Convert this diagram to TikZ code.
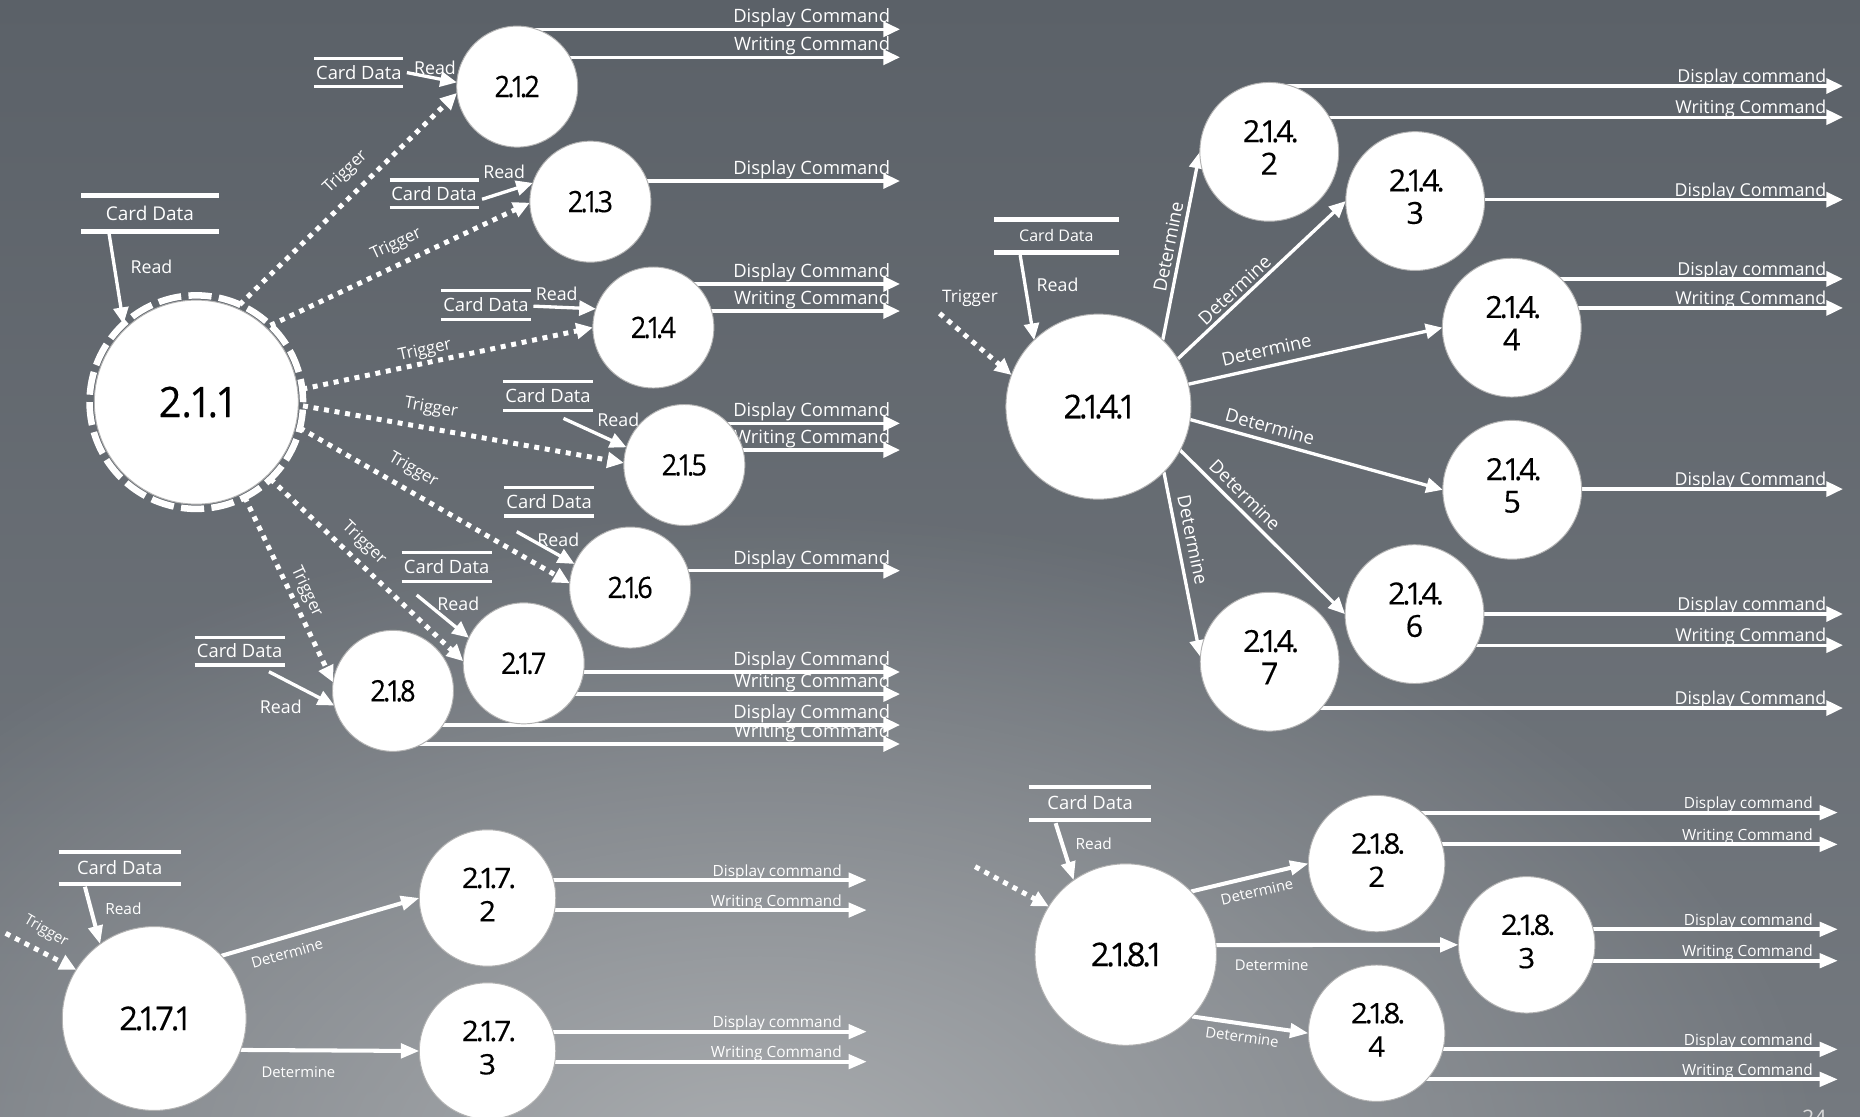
\documentclass[tikz,border=0pt]{standalone}
\usepackage{fontspec}
\setmainfont{Open Sans}
\newfontfamily\numfont{Open Sans}[Numbers=Proportional, FakeBold=0.35]
\usepackage{graphicx}
\usetikzlibrary{arrows.meta,fadings}

\pgfdeclarelayer{bg}
\pgfdeclarelayer{links}
\pgfsetlayers{bg,links,main}

\definecolor{bgtop}{HTML}{5B6168}
\definecolor{bgbottom}{HTML}{74797F}
\definecolor{bgglow}{HTML}{AAADB0}
\tikzfading[name=glowfade, inner color=transparent!0, outer color=transparent!100]

% tight full stop used inside process numbers
\newcommand\pd{\kern-0.1em.\kern-0.1em}
% process numbers: size, horizontal squeeze, text
\newcommand\procnum[3]{\numfont\fontsize{#1}{#1}\selectfont\scalebox{#2}[1]{#3}}
% two-line process numbers: size, line pitch, squeeze, first line, second line
\newcommand\proctwo[5]{\numfont\fontsize{#1}{#2}\selectfont\scalebox{#3}[1]{\begin{tabular}{@{}c@{}}#4\\#5\end{tabular}}}
\newcommand\setfs[1]{\fontsize{#1}{#1}\selectfont}

\tikzset{
  bubble/.style={circle, fill=white, draw=black!30, line width=0.8pt, inner sep=0pt, outer sep=0pt, minimum size=#1, text=black},
  ringnode/.style={circle, draw=white, line width=5.5pt, dash pattern=on 19.5pt off 6.2pt, inner sep=0pt, outer sep=0pt, minimum size=180pt},
  storeline/.style={draw=white, line width=#1, -},
  store/.style n args={4}{inner sep=0pt, outer sep=0pt, minimum width=#1, minimum height=#2, text=white,
    font=\setfs{#4}, text height={#4pt*0.72}, text depth=0pt,
    append after command={(\tikzlastnode.north west) edge[storeline=#3] (\tikzlastnode.north east)
                          (\tikzlastnode.south west) edge[storeline=#3] (\tikzlastnode.south east)}},
  flowA/.style={draw=white, line width=2.8pt, -{Triangle[length=14pt,width=12.6pt]}},
  flowC/.style={draw=white, line width=3.4pt, -{Triangle[length=15.5pt,width=12pt]}},
  trig/.style={draw=white, line width=4.2pt, dash pattern=on 4.2pt off 4.8pt, -{Triangle[length=14pt,width=13pt]}},
  lbl/.style={text=white, inner sep=0pt, font=\setfs{#1}},
  outlbl/.style={text=white, inner sep=0pt, anchor=base east, font=\setfs{#1}},
}

\begin{document}
\begin{tikzpicture}[x=1pt, y=-1pt]
\useasboundingbox (0,0) rectangle (1568,941);

% ---------- background ----------
\begin{pgfonlayer}{bg}
  \shade[top color=bgtop, bottom color=bgbottom] (0,0) rectangle (1568,941);
  \fill[bgglow, path fading=glowfade] (640,990) ellipse (900 and 560);
  \node[text=white!85!black, inner sep=0pt, anchor=north, font=\setfs{18}] (pgno) at (1529.5,935.8) {24};
\end{pgfonlayer}

% =============== 2.1.1 and its children ===============
\node[bubble=172pt] (n211) at (165.5,339) {\procnum{35.4}{0.94}{2.1.1}};
\node[ringnode] (n211ring) at (165.5,339) {};
\node[store={116pt}{31pt}{4.2pt}{16}] (s211) at (126.4,179.9) {Card Data};

\node[bubble=102pt] (n212) at (436,73) {\procnum{24.8}{0.92}{2\pd1\pd2}};
\node[bubble=102pt] (n213) at (497.7,170) {\procnum{24.8}{0.92}{2\pd1\pd3}};
\node[bubble=102pt] (n214) at (550.8,276.1) {\procnum{24.8}{0.92}{2\pd1\pd4}};
\node[bubble=102pt] (n215) at (576.9,392) {\procnum{24.8}{0.92}{2\pd1\pd5}};
\node[bubble=102pt] (n216) at (531.2,495.3) {\procnum{24.8}{0.92}{2\pd1\pd6}};
\node[bubble=102pt] (n217) at (441.5,559.2) {\procnum{24.8}{0.92}{2\pd1\pd7}};
\node[bubble=102pt] (n218) at (331.3,582.4) {\procnum{24.8}{0.92}{2\pd1\pd8}};

\node[store={75pt}{24pt}{2.8pt}{15.5}] (s212) at (302.5,61.2) {Card Data};
\node[store={75pt}{23.4pt}{2.8pt}{15.5}] (s213) at (365.9,163.4) {Card Data};
\node[store={76pt}{24.2pt}{2.8pt}{15.5}] (s214) at (409.7,257.1) {Card Data};
\node[store={75.4pt}{24.4pt}{2.8pt}{15.5}] (s215) at (462,334) {Card Data};
\node[store={75.8pt}{24.2pt}{2.8pt}{15.5}] (s216) at (462.9,422.9) {Card Data};
\node[store={76pt}{24pt}{2.8pt}{15.5}] (s217) at (376.5,478) {Card Data};
\node[store={76pt}{23.3pt}{2.8pt}{15.5}] (s218) at (202,549) {Card Data};

% read labels
\node[lbl=15] (r211) at (127.7,224.8) {Read};
\node[lbl=15] (r212) at (366.7,57.6) {Read};
\node[lbl=15] (r213) at (425,144.7) {Read};
\node[lbl=15] (r214) at (469.3,247.9) {Read};
\node[lbl=15] (r215) at (521.3,354) {Read};
\node[lbl=15] (r216) at (470.7,454.7) {Read};
\node[lbl=15] (r217) at (386.4,509.2) {Read};
\node[lbl=15] (r218) at (236.7,595.7) {Read};

% trigger labels
\node[lbl=14, rotate=43.8] (t212) at (291.4,145.3) {Trigger};
\node[lbl=14, rotate=24.9] (t213) at (334,206.1) {Trigger};
\node[lbl=14, rotate=12.3] (t214) at (358.3,295.5) {Trigger};
\node[lbl=14, rotate=-10] (t215) at (363.4,344.2) {Trigger};
\node[lbl=14, rotate=-30.2] (t216) at (348.3,396.2) {Trigger};
\node[lbl=14, rotate=-43.6] (t217) at (306.7,458) {Trigger};
\node[lbl=14, rotate=-64.8] (t218) at (258.3,498.8) {Trigger};

% free ends of the outgoing flows
\coordinate (o212a) at (758.7,24.7);  \coordinate (o212b) at (758.7,48.3);
\coordinate (o213a) at (758.7,152.6);
\coordinate (o214a) at (758.7,239.4); \coordinate (o214b) at (758.7,262.2);
\coordinate (o215a) at (758.7,356.9); \coordinate (o215b) at (758.7,379.4);
\coordinate (o216a) at (758.7,481.1);
\coordinate (o217a) at (758.7,566.5); \coordinate (o217b) at (758.7,585.1);
\coordinate (o218a) at (758.7,611.2); \coordinate (o218b) at (758.7,627.2);

% =============== 2.1.4.1 and its children ===============
\node[bubble=156pt] (n2141) at (926,342.8) {\procnum{27.6}{1}{2\pd1\pd4\pd1}};
\node[bubble=117pt] (n2142) at (1070,128) {\proctwo{25.6}{27.4}{1}{2\pd1\pd4\pd}{2}};
\node[bubble=117pt] (n2143) at (1193,169.5) {\proctwo{25.6}{27.4}{1}{2\pd1\pd4\pd}{3}};
\node[bubble=117pt] (n2144) at (1274.4,276.2) {\proctwo{25.6}{27.4}{1}{2\pd1\pd4\pd}{4}};
\node[bubble=117pt] (n2145) at (1274.8,412.9) {\proctwo{25.6}{27.4}{1}{2\pd1\pd4\pd}{5}};
\node[bubble=117pt] (n2146) at (1192.4,517.7) {\proctwo{25.6}{27.4}{1}{2\pd1\pd4\pd}{6}};
\node[bubble=117pt] (n2147) at (1070.3,557.8) {\proctwo{25.6}{27.4}{1}{2\pd1\pd4\pd}{7}};
\node[store={105pt}{28.1pt}{4.2pt}{13.5}] (s2141) at (890.5,198.7) {Card Data};
\node[lbl=15] (r2141) at (891.5,240.3) {Read};
\node[lbl=14.5] (t2141) at (817.7,251.5) {Trigger};
\coordinate (tB) at (792.1,264.2);

\node[lbl=15.5, rotate=78.7] (d2142) at (984.8,208) {Determine};
\node[lbl=15.5, rotate=43] (d2143) at (1040.6,244.5) {Determine};
\node[lbl=15.5, rotate=12.7] (d2144) at (1067.6,295) {Determine};
\node[lbl=15.5, rotate=-15.5] (d2145) at (1070.6,359.7) {Determine};
\node[lbl=15.5, rotate=-44.8] (d2146) at (1049.6,417.3) {Determine};
\node[lbl=15.5, rotate=-78.5] (d2147) at (1005.5,455.2) {Determine};

\coordinate (o2142a) at (1553.6,72.5);  \coordinate (o2142b) at (1553.6,98.8);
\coordinate (o2143a) at (1553.6,168.3);
\coordinate (o2144a) at (1553.6,235.1); \coordinate (o2144b) at (1553.6,259.6);
\coordinate (o2145a) at (1553.6,412.3);
\coordinate (o2146a) at (1553.6,517.6); \coordinate (o2146b) at (1553.6,543.9);
\coordinate (o2147a) at (1553.6,596.9);

% =============== 2.1.7.1 and its children ===============
\node[bubble=155pt] (n2171) at (130,858.6) {\procnum{27.6}{1}{2\pd1\pd7\pd1}};
\node[bubble=115pt] (n2172) at (411,757) {\proctwo{23.7}{28.1}{1.05}{2\pd1\pd7\pd}{2}};
\node[bubble=115pt] (n2173) at (411,886) {\proctwo{23.7}{28.1}{1.05}{2\pd1\pd7\pd}{3}};
\node[store={103pt}{27.2pt}{3.4pt}{15.5}] (s2171) at (100.9,731.6) {Card Data};
\node[lbl=13] (r2171) at (104,765.8) {Read};
\node[lbl=12.5, rotate=-30] (t2171) at (38.7,785.4) {Trigger};
\coordinate (tC) at (4.8,786.8);
\node[lbl=12.5, rotate=15.9] (d2172) at (242,803.7) {Determine};
\node[lbl=12.5] (d2173) at (251.6,903.5) {Determine};

\coordinate (o2172a) at (730.8,741.9); \coordinate (o2172b) at (730.8,767.2);
\coordinate (o2173a) at (730.8,869.7); \coordinate (o2173b) at (730.8,895);

% =============== 2.1.8.1 and its children ===============
\node[bubble=153pt] (n2181) at (949,804.7) {\procnum{27.6}{1}{2\pd1\pd8\pd1}};
\node[bubble=115pt] (n2182) at (1160.5,728) {\proctwo{23.7}{28.1}{1.05}{2\pd1\pd8\pd}{2}};
\node[bubble=115pt] (n2183) at (1287,796.5) {\proctwo{23.7}{28.1}{1.05}{2\pd1\pd8\pd}{3}};
\node[bubble=115pt] (n2184) at (1160.5,871) {\proctwo{23.7}{28.1}{1.05}{2\pd1\pd8\pd}{4}};
\node[store={103pt}{28.1pt}{3.4pt}{15.5}] (s2181) at (919,677.2) {Card Data};
\node[lbl=13] (r2181) at (922,711.5) {Read};
\coordinate (tD) at (822,730.6);
\node[lbl=12.5, rotate=13] (d2182) at (1059.6,751.7) {Determine};
\node[lbl=12.5] (d2183) at (1072,813.5) {Determine};
\node[lbl=12.5, rotate=-7.9] (d2184) at (1047.2,874) {Determine};

\coordinate (o2182a) at (1549.4,685);   \coordinate (o2182b) at (1549.4,711.8);
\coordinate (o2183a) at (1549.4,783.4); \coordinate (o2183b) at (1549.4,809.9);
\coordinate (o2184a) at (1549.4,884.6); \coordinate (o2184b) at (1549.4,909.9);

% ---------- connectors (drawn beneath the bubbles) ----------
\begin{pgfonlayer}{links}
  % reads from the card data stores
  \draw[flowA] ([xshift=-34.7pt]s211.south) -- (n211ring.133);
  \draw[flowA] ([xshift=3pt]s212.east) -- (n212.176);
  \draw[flowA] ([shift={(3,4.6)}]s213.east) -- (n213.162);
  \draw[flowA] ([shift={(2,1)}]s214.east) -- (n214.162);
  \draw[flowA] ([shift={(13,6.5)}]s215.south) -- (n215.163);
  \draw[flowA] ([shift={(-27.3,13.2)}]s216.south) -- (n216.157);
  \draw[flowA] ([shift={(-25.2,11.6)}]s217.south) -- (n217.155);
  \draw[flowA] ([shift={(24.7,5.6)}]s218.south) -- (n218.194);

  % triggers from 2.1.1
  \draw[trig] (n211ring.66) -- (n212.186);
  \draw[trig] (n211ring.46) -- (n213.181);
  \draw[trig] (n211ring.7) -- (n214.180);
  \draw[trig] (n211ring.-2) -- (n215.178);
  \draw[trig] (n211ring.-14) -- (n216.176);
  \draw[trig] (n211ring.-46) -- (n217.178);
  \draw[trig] (n211ring.-63) -- (n218.172);

  % outgoing commands
  \foreach \src/\dst/\txt in {n212/o212a/Display Command, n212/o212b/Writing Command,
      n213/o213a/Display Command, n214/o214a/Display Command, n214/o214b/Writing Command,
      n215/o215a/Display Command, n215/o215b/Writing Command, n216/o216a/Display Command,
      n217/o217a/Display Command, n217/o217b/Writing Command,
      n218/o218a/Display Command, n218/o218b/Writing Command}
    \draw[flowA] (\src |- \dst) -- (\dst)
      node[outlbl=15.5, xshift=-7pt, yshift=5.6pt] {\txt};

  % 2.1.4.1
  \draw[flowA] ([xshift=-30.5pt, yshift=-2.3pt]s2141.south) -- (n2141.134);
  \draw[trig] (tB) -- (n2141.160);
  \draw[flowA] (n2141.46) -- (n2142.180);
  \draw[flowA] (n2141.31.8) -- (n2143.180);
  \draw[flowA] (n2141.14) -- (n2144.180);
  \draw[flowA] (n2141.-8.2) -- (n2145.180);
  \draw[flowA] (n2141.-28) -- (n2146.180);
  \draw[flowA] (n2141.-45.8) -- (n2147.176);
  \foreach \src/\dst/\txt in {n2142/o2142a/Display command, n2142/o2142b/Writing Command,
      n2143/o2143a/Display Command, n2144/o2144a/Display command, n2144/o2144b/Writing Command,
      n2145/o2145a/Display Command, n2146/o2146a/Display command, n2146/o2146b/Writing Command,
      n2147/o2147a/Display Command}
    \draw[flowA] (\src |- \dst) -- (\dst)
      node[outlbl=15, xshift=-12.6pt, yshift=2.9pt] {\txt};

  % 2.1.7.1
  \draw[flowC] ([xshift=-29.3pt, yshift=-2.3pt]s2171.south) -- (n2171.126);
  \draw[trig] (tC) -- (n2171.148);
  \draw[flowC] (n2171.43.5) -- (n2172.180);
  \draw[flowC] (n2171.-20.7) -- (n2173.west);
  \foreach \src/\dst/\txt in {n2172/o2172a/Display command, n2172/o2172b/Writing Command,
      n2173/o2173a/Display command, n2173/o2173b/Writing Command}
    \draw[flowC] (\src |- \dst) -- (\dst)
      node[outlbl=13, xshift=-19.5pt, yshift=3.2pt] {\txt};

  % 2.1.8.1
  \draw[flowC] ([xshift=-29.1pt, yshift=-2.7pt]s2181.south) -- (n2181.125);
  \draw[trig] (tD) -- (n2181.148.5);
  \draw[flowC] (n2181.44) -- (n2182.180);
  \draw[flowC] (n2181.6) -- (n2183.west);
  \draw[flowC] (n2181.-43.4) -- (n2184.180);
  \foreach \src/\dst/\txt in {n2182/o2182a/Display command, n2182/o2182b/Writing Command,
      n2183/o2183a/Display command, n2183/o2183b/Writing Command,
      n2184/o2184a/Display command, n2184/o2184b/Writing Command}
    \draw[flowC] (\src |- \dst) -- (\dst)
      node[outlbl=13, xshift=-19.5pt, yshift=3.2pt] {\txt};
\end{pgfonlayer}
\end{tikzpicture}
\end{document}
